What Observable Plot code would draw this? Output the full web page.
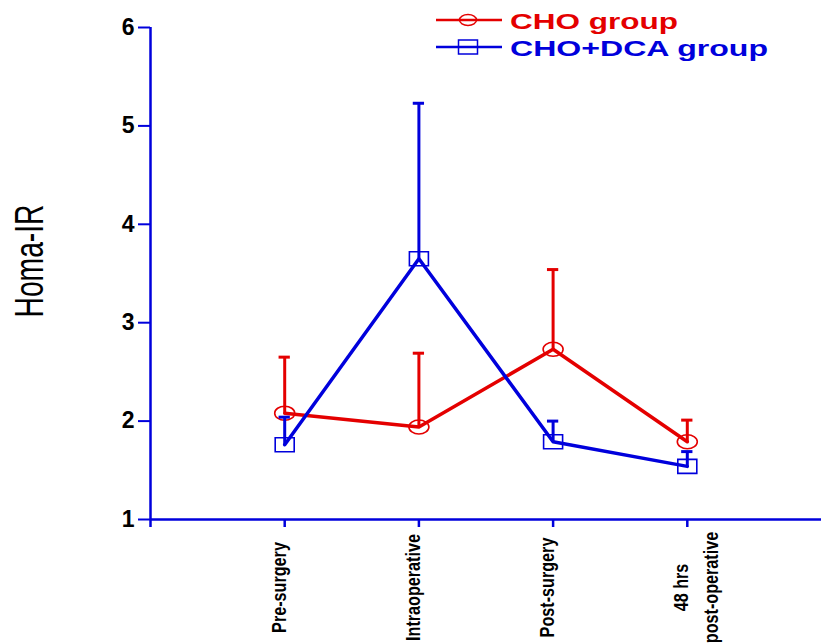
<!DOCTYPE html>
<html><head><meta charset="utf-8">
<script src="https://cdn.jsdelivr.net/npm/d3@7"></script>
<script src="https://cdn.jsdelivr.net/npm/@observablehq/plot@0.6"></script>
<style>
body{margin:0;background:#fff}
#wrap{position:relative;width:821px;height:643px;overflow:hidden;background:#fff}
#legend{position:absolute;left:0;top:0}
</style></head><body>
<div id="wrap"></div>
<script>
// ---- data ----
const categories = ["Pre-surgery", "Intraoperative", "Post-surgery", "48 hrs\npost-operative"];
const seriesNames = ["CHO group", "CHO+DCA group"];
const choMean = [2.08, 1.94, 2.73, 1.79];
const choSD   = [0.57, 0.75, 0.81, 0.22];
const dcaMean = [1.76, 3.65, 1.79, 1.54];
const dcaSD   = [0.28, 1.58, 0.21, 0.15];
const yTicks  = [1, 2, 3, 4, 5, 6];
const xTicks  = [0, 1, 2, 3];

const RED = "#e40000", BLUE = "#0000dc", AXIS = "#0000dc";
const FONT = "Liberation Sans, Arial, Helvetica, sans-serif";

const cho = categories.map((c, i) => ({i, cat: c, group: seriesNames[0], mean: choMean[i], upper: choMean[i] + choSD[i]}));
const dca = categories.map((c, i) => ({i, cat: c, group: seriesNames[1], mean: dcaMean[i], upper: dcaMean[i] + dcaSD[i]}));

function ellipseSymbol(rx, ry) {
  const k = 0.5523;
  return {draw(ctx) {
    ctx.moveTo(rx, 0);
    ctx.bezierCurveTo(rx, ry * k, rx * k, ry, 0, ry);
    ctx.bezierCurveTo(-rx * k, ry, -rx, ry * k, -rx, 0);
    ctx.bezierCurveTo(-rx, -ry * k, -rx * k, -ry, 0, -ry);
    ctx.bezierCurveTo(rx * k, -ry, rx, -ry * k, rx, 0);
    ctx.closePath();
  }};
}
function rectSymbol(w, h) {
  return {draw(ctx) { ctx.rect(-w / 2, -h / 2, w, h); }};
}
const capW = 0.042;

function series(data, color, symbol) {
  return [
    Plot.ruleX(data, {x: "i", y1: "mean", y2: "upper", stroke: color, strokeWidth: 3}),
    Plot.ruleY(data, {x1: d => d.i - capW, x2: d => d.i + capW, y: "upper", stroke: color, strokeWidth: 3}),
    Plot.line(data, {x: "i", y: "mean", stroke: color, strokeWidth: 3.5}),
    Plot.dot(data, {x: "i", y: "mean", symbol, stroke: color, strokeWidth: 1.6, fill: "none"})
  ];
}

const chart = Plot.plot({
  width: 821,
  height: 643,
  marginLeft: 150,
  marginRight: 0,
  marginTop: 27,
  marginBottom: 124,
  style: {background: "#fff", fontFamily: FONT},
  x: {type: "linear", domain: [-1, 4]},
  y: {domain: [1, 6]},
  marks: [
    Plot.ruleY([1], {stroke: AXIS, strokeWidth: 2.5}),
    Plot.ruleX([-1], {stroke: AXIS, strokeWidth: 2.5, insetBottom: -8}),
    Plot.axisY({ticks: yTicks, tickSize: 12, tickPadding: 4, stroke: AXIS, strokeWidth: 2,
      fill: "black", fontSize: 23, fontWeight: "bold", tickFormat: d3.format("d"), label: null}),
    Plot.axisX({ticks: xTicks, tickSize: 8, stroke: AXIS, strokeWidth: 2.5, tickFormat: () => "", label: null}),
    Plot.text(categories, {x: (d, i) => i, frameAnchor: "bottom", rotate: -90, textAnchor: "middle",
      lineAnchor: "top", dx: -20, dy: 68, fontSize: 21, fontWeight: "bold", lineHeight: 1.4, fill: "black"}),
    Plot.text(["Homa-IR"], {frameAnchor: "left", rotate: -90, dx: -120, dy: 44, fontSize: 40, fill: "black"}),
    ...series(cho, RED, ellipseSymbol(10, 7)),
    ...series(dca, BLUE, rectSymbol(19, 14))
  ]
});
const wrap = document.getElementById("wrap");
wrap.appendChild(chart);

// y tick label size
const tickStrings = yTicks.map(String);
chart.querySelectorAll("text").forEach(t => {
  if (tickStrings.includes(t.textContent)) {
    t.style.fontSize = "23px";
    t.style.fontWeight = "bold";
    t.style.fontFamily = FONT;
  }
});

// condense text glyphs like the original's narrow font
document.body.offsetHeight;
chart.querySelectorAll("text").forEach(t => {
  const s = t.textContent;
  if (s === "Homa-IR") {
    t.setAttribute("textLength", 113);
    t.setAttribute("lengthAdjust", "spacingAndGlyphs");
  } else if (categories.some(c => c.replace("\n", "") === s)) {
    const spans = t.querySelectorAll("tspan");
    const parts = spans.length ? Array.from(spans) : [t];
    parts.forEach(p => {
      const L = p.getComputedTextLength();
      p.setAttribute("textLength", (L * 0.77).toFixed(1));
      p.setAttribute("lengthAdjust", "spacingAndGlyphs");
    });
  }
});

// legend
const ns = "http://www.w3.org/2000/svg";
const leg = document.createElementNS(ns, "svg");
leg.setAttribute("id", "legend");
leg.setAttribute("width", 821);
leg.setAttribute("height", 70);
const items = [
  {name: seriesNames[0], color: RED, y: 20, shape: "ellipse", len: 168},
  {name: seriesNames[1], color: BLUE, y: 47, shape: "rect", len: 258}
];
items.forEach(it => {
  const ln = document.createElementNS(ns, "line");
  ln.setAttribute("x1", 436); ln.setAttribute("x2", 502);
  ln.setAttribute("y1", it.y); ln.setAttribute("y2", it.y);
  ln.setAttribute("stroke", it.color); ln.setAttribute("stroke-width", 2.5);
  leg.appendChild(ln);
  let m;
  if (it.shape === "ellipse") {
    m = document.createElementNS(ns, "ellipse");
    m.setAttribute("cx", 468); m.setAttribute("cy", it.y);
    m.setAttribute("rx", 8.5); m.setAttribute("ry", 5.5);
  } else {
    m = document.createElementNS(ns, "rect");
    m.setAttribute("x", 468 - 9.5); m.setAttribute("y", it.y - 7);
    m.setAttribute("width", 19); m.setAttribute("height", 14);
  }
  m.setAttribute("fill", "none"); m.setAttribute("stroke", it.color); m.setAttribute("stroke-width", 1.5);
  leg.appendChild(m);
  const tx = document.createElementNS(ns, "text");
  tx.setAttribute("x", 510); tx.setAttribute("y", it.y + 9);
  tx.setAttribute("fill", it.color);
  tx.setAttribute("font-family", FONT);
  tx.setAttribute("font-size", 22);
  tx.setAttribute("font-weight", "bold");
  tx.setAttribute("textLength", it.len);
  tx.setAttribute("lengthAdjust", "spacingAndGlyphs");
  tx.textContent = it.name;
  leg.appendChild(tx);
});
wrap.appendChild(leg);
</script>
</body></html>
